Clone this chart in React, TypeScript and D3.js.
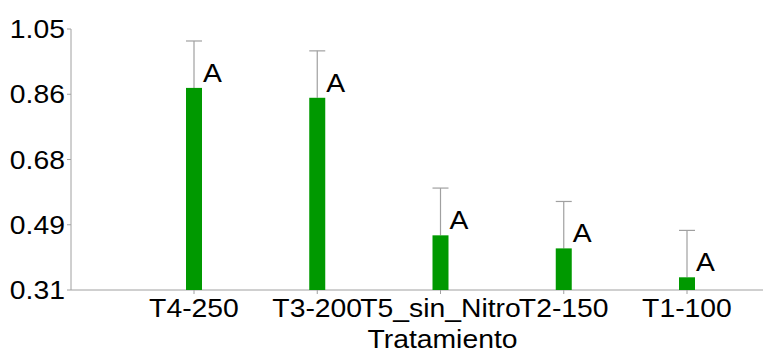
import React from 'react';
import * as d3 from 'd3';

const categories = ['T4-250', 'T3-200', 'T5_sin_Nitro', 'T2-150', 'T1-100'];
const means = [0.883, 0.855, 0.465, 0.428, 0.346];
const upper = [1.016, 0.988, 0.599, 0.561, 0.479];
const letters = ['A', 'A', 'A', 'A', 'A'];
const yTicks = [0.31, 0.495, 0.68, 0.865, 1.05];
const yTickLabels = ['0.31', '0.49', '0.68', '0.86', '1.05'];
const xTitle = 'Tratamiento';

const W = 763;
const H = 355;
const left = 71;
const top = 29;
const bottom = 290;
const font = 'Arial, "Liberation Sans", sans-serif';
const stretch = 1.09;

// text drawn a bit wider than the font, as in the original export
const Label = ({ x, y, anchor = 'start', dy, children }: any) => (
  <text
    transform={`translate(${x},${y}) scale(${stretch},1)`}
    dy={dy}
    textAnchor={anchor}
    fontSize={26}
    fill="#000"
  >
    {children}
  </text>
);

const App = () => {
  const x = d3.scalePoint<string>().domain(categories).range([194, 687]);
  const y = d3.scaleLinear().domain([0.31, 1.05]).range([bottom, top]);
  const barW = 16;
  const grey = '#a0a0a0';
  const mid = x(categories[2]) as number;

  return (
    <svg width={W} height={H} style={{ position: 'absolute', left: 0, top: 0 }} fontFamily={font}>
      <rect width={W} height={H} fill="#fff" />
      {/* y axis */}
      <line x1={left} x2={left} y1={y(1.05)} y2={y(0.31)} stroke={grey} strokeWidth={1} />
      {yTicks.map((t, i) => (
        <g key={t}>
          <line x1={left - 4} x2={left} y1={y(t)} y2={y(t)} stroke={grey} />
          <Label x={left - 6} y={y(t)} dy="0.35em" anchor="end">
            {yTickLabels[i]}
          </Label>
        </g>
      ))}
      {/* x axis */}
      <line x1={left} x2={W} y1={bottom} y2={bottom} stroke={grey} strokeWidth={1} />
      {categories.map(c => (
        <g key={c}>
          <line x1={x(c)} x2={x(c)} y1={bottom} y2={bottom + 4} stroke={grey} />
          <Label x={x(c)} y={317} anchor="middle">
            {c}
          </Label>
        </g>
      ))}
      <Label x={mid + 2} y={348} anchor="middle">
        {xTitle}
      </Label>
      {/* bars, error bars, letters */}
      {categories.map((c, i) => {
        const cx = x(c) as number;
        return (
          <g key={c + 'bar'}>
            <line x1={cx} x2={cx} y1={y(means[i])} y2={y(upper[i])} stroke={grey} strokeWidth={1.2} />
            <line x1={cx - barW / 2} x2={cx + barW / 2} y1={y(upper[i])} y2={y(upper[i])} stroke={grey} strokeWidth={1.2} />
            <rect x={cx - barW / 2} y={y(means[i])} width={barW} height={bottom - y(means[i])} fill="#009900" />
            <Label x={cx + barW / 2 + 1} y={y(means[i]) - 6}>
              {letters[i]}
            </Label>
          </g>
        );
      })}
    </svg>
  );
};

export default App;
